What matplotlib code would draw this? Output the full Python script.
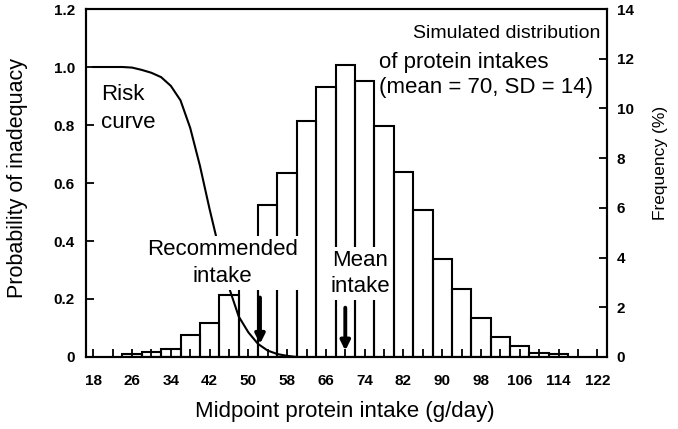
import matplotlib
matplotlib.use('Agg')
import matplotlib.pyplot as plt

# ---- data ----
bin_centers = [26, 30, 34, 38, 42, 46, 50, 54, 58, 62, 66, 70, 74, 78, 82, 86, 90, 94, 98, 102, 106, 110, 114]
freq_pct = [0.12, 0.19, 0.31, 0.88, 1.38, 2.5, 4.1, 6.1, 7.4, 9.5, 10.85, 11.75, 11.1, 9.3, 7.45, 5.9, 3.95, 2.73, 1.56, 0.82, 0.46, 0.15, 0.12]
bin_width = 4

risk_x = [18, 20, 22, 24, 26, 28, 30, 32, 34, 36, 38, 40, 42, 44, 46, 48, 50, 52, 54, 56, 58, 60]
risk_y = [1.0, 1.0, 1.0, 1.0, 0.998, 0.99, 0.98, 0.965, 0.935, 0.885, 0.79, 0.66, 0.51, 0.37, 0.24, 0.14, 0.085, 0.045, 0.022, 0.01, 0.004, 0.0]

x_major = [18, 26, 34, 42, 50, 58, 66, 74, 82, 90, 98, 106, 114, 122]
x_minor = [22, 30, 38, 46, 54, 62, 70, 78, 86, 94, 102, 110, 118]
left_ticks = [0, 0.2, 0.4, 0.6, 0.8, 1.0, 1.2]
left_labels = ['0', '0.2', '0.4', '0.6', '0.8', '1.0', '1.2']
right_ticks = [0, 2, 4, 6, 8, 10, 12, 14]

recommended_intake = 52.4
mean_intake = 70

plt.rcParams['font.family'] = ['Liberation Sans', 'DejaVu Sans']

fig = plt.figure(figsize=(6.78, 4.29), dpi=100)
W, H = 678, 429
ax = fig.add_axes([86 / W, 1 - 357 / H, (607 - 86) / W, (357 - 9) / H])
ax2 = ax.twinx()

# risk curve on left axis
ax.plot(risk_x, risk_y, color='black', lw=1.5, zorder=2)

# histogram on right axis (outline only so the curve shows through)
ax2.bar(bin_centers, freq_pct, width=bin_width, fill=False, edgecolor='black', linewidth=1.5, zorder=2)

ax.set_xlim(16.5, 124)
ax.set_ylim(0, 1.2)
ax2.set_ylim(0, 14)

tick_font = dict(fontsize=11, fontweight='bold')
ax.set_xticks(x_major)
ax.set_xticks(x_minor, minor=True)
ax.set_xticklabels([str(v) for v in x_major], **tick_font)
ax.set_yticks(left_ticks)
ax.set_yticklabels(left_labels, **tick_font)
ax2.set_yticks(right_ticks)
ax2.set_yticklabels([str(v) for v in right_ticks], **tick_font)

ax.tick_params(axis='both', which='both', direction='in', length=6, width=1.3)
ax.tick_params(axis='y', pad=8)
ax.tick_params(axis='x', which='both', pad=12)
ax2.tick_params(axis='y', direction='in', length=6, width=1.3, pad=7)

for a in (ax, ax2):
    for s in a.spines.values():
        s.set_linewidth(1.5)

# axis labels
fig.text(345 / W, 1 - 412 / H, 'Midpoint protein intake (g/day)', ha='center', va='center', fontsize=16)
fig.text(18 / W, 1 - 178 / H, 'Probability of inadequacy', ha='center', va='center', rotation=90, fontsize=15.5)
fig.text(660 / W, 1 - 163 / H, 'Frequency (%)', ha='center', va='center', rotation=90, fontsize=12.5)

# annotations (placed with left-axis data coordinates)
box = dict(facecolor='white', edgecolor='none', pad=2)
ax2.text(19.6, 0.94, 'Risk\ncurve', transform=ax.transData, ha='left', va='top', fontsize=16,
         linespacing=1.4, zorder=5)
ax2.text(44.6, 0.324, 'Recommended\nintake', transform=ax.transData, ha='center', va='center', fontsize=16,
         linespacing=1.4, bbox=box, zorder=5)
ax2.text(73, 0.288, 'Mean\nintake', transform=ax.transData, ha='center', va='center', fontsize=16,
         linespacing=1.35, bbox=box, zorder=5)
ax2.text(122.6, 1.117, 'Simulated distribution', transform=ax.transData, ha='right', va='center', fontsize=14, zorder=5)
ax2.text(76.9, 0.974, 'of protein intakes\n(mean = 70, SD = 14)', transform=ax.transData, ha='left', va='center',
         fontsize=16, linespacing=1.25, bbox=dict(facecolor='white', edgecolor='none', pad=1), zorder=5)

arrow = dict(arrowstyle='-|>', lw=2.8, mutation_scale=14, color='black', shrinkA=0, shrinkB=0)
ax2.annotate('', xy=(recommended_intake, 0.045), xytext=(recommended_intake, 0.205),
             xycoords=ax.transData, textcoords=ax.transData, arrowprops=arrow, zorder=6)
ax2.annotate('', xy=(mean_intake, 0.022), xytext=(mean_intake, 0.17),
             xycoords=ax.transData, textcoords=ax.transData, arrowprops=arrow, zorder=6)

fig.savefig('out.png', dpi=100)
